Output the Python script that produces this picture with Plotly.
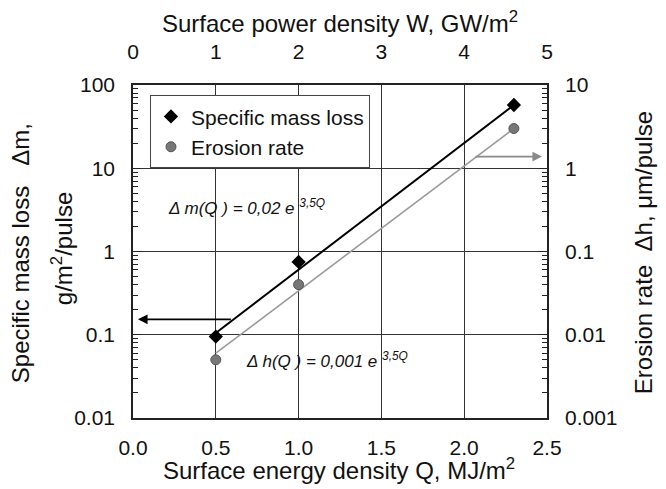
import math
import plotly.graph_objects as go

# ---------------- data ----------------
Q = [0.5, 1.0, 2.3]                      # surface energy density, MJ/m2
mass_loss = [0.095, 0.75, 57.5]          # g/m2/pulse (left axis)
erosion = [0.005, 0.040, 3.0]            # um/pulse (right axis)

Q_fit = [0.5, 2.3]
mass_fit = [0.105, 57.5]                 # dm(Q) = 0.02 e^(3.5Q)
erosion_fit = [0.006, 3.0]               # dh(Q) = 0.001 e^(3.5Q)

left_ticks = [0.01, 0.1, 1, 10, 100]
left_ticktext = ["0.01", "0.1", "1", "10", "100"]
right_ticks = [0.001, 0.01, 0.1, 1, 10]
right_ticktext = ["0.001", "0.01", "0.1", "1", "10"]
x_ticks = [0.0, 0.5, 1.0, 1.5, 2.0, 2.5]
w_ticks = [0, 1, 2, 3, 4, 5]

arrow_mass = dict(q_from=0.60, q_to=0.03, value=0.153)
arrow_erosion = dict(q_from=2.06, q_to=2.47, value=1.38)

FONT = "Liberation Sans, Arial, sans-serif"
TXT = "#111111"

fig = go.Figure()

# fit lines
fig.add_trace(go.Scatter(x=Q_fit, y=mass_fit, mode="lines", xaxis="x", yaxis="y",
                         line=dict(color="black", width=2), showlegend=False, hoverinfo="skip"))
fig.add_trace(go.Scatter(x=Q_fit, y=erosion_fit, mode="lines", xaxis="x", yaxis="y2",
                         line=dict(color="#9a9a9a", width=1.6), showlegend=False, hoverinfo="skip"))
# data points
fig.add_trace(go.Scatter(x=Q, y=mass_loss, mode="markers", name="Specific mass loss",
                         xaxis="x", yaxis="y",
                         marker=dict(symbol="diamond", size=11, color="black")))
fig.add_trace(go.Scatter(x=Q, y=erosion, mode="markers", name="Erosion rate",
                         xaxis="x", yaxis="y2",
                         marker=dict(symbol="circle", size=10, color="#777777",
                                     line=dict(color="#555555", width=1))))
# invisible trace to show the top axis
fig.add_trace(go.Scatter(x=[w_ticks[0]], y=[1], mode="markers", xaxis="x2", yaxis="y",
                         marker=dict(opacity=0), showlegend=False, hoverinfo="skip"))

tickfont = dict(family=FONT, size=21, color=TXT)

fig.update_layout(
    width=666, height=489,
    margin=dict(l=133, r=119, t=85, b=71),
    paper_bgcolor="white", plot_bgcolor="white",
    font=dict(family=FONT, color=TXT),
    xaxis=dict(range=[0, 2.5], tickvals=x_ticks, ticktext=[f"{v:.1f}" for v in x_ticks],
               showgrid=True, gridcolor="#333333", gridwidth=1, zeroline=False,
               showline=True, linecolor="#222222", linewidth=1.5, mirror=True,
               ticks="", tickfont=tickfont, ticklabelstandoff=10),
    xaxis2=dict(range=[0, 5], tickvals=w_ticks, overlaying="x", side="top", anchor="y",
                showgrid=False, zeroline=False, showline=False, ticks="",
                tickfont=tickfont, ticklabelstandoff=21),
    yaxis=dict(type="log", range=[-2, 2], tickvals=left_ticks, ticktext=left_ticktext,
               showgrid=True, gridcolor="#333333", gridwidth=1, zeroline=False,
               showline=True, linecolor="#222222", linewidth=1.5, mirror=True,
               ticks="inside", ticklen=8, tickcolor="#222222",
               minor=dict(ticks="inside", ticklen=5, tickcolor="#222222", dtick="D1", showgrid=False),
               tickfont=tickfont, ticklabelstandoff=12),
    yaxis2=dict(type="log", range=[-3, 1], tickvals=right_ticks, ticktext=right_ticktext,
                overlaying="y", side="right", anchor="x",
                showgrid=False, zeroline=False, showline=False,
                ticks="inside", ticklen=8, tickcolor="#222222",
                minor=dict(ticks="inside", ticklen=5, tickcolor="#222222", dtick="D1", showgrid=False),
                tickfont=tickfont, ticklabelstandoff=17),
    legend=dict(x=0.041, y=0.969, xanchor="left", yanchor="top",
                bgcolor="white", bordercolor="#444444", borderwidth=1,
                font=dict(family=FONT, size=21, color=TXT),
                tracegroupgap=0, itemwidth=30),
)

TITLE = dict(family=FONT, size=24, color=TXT)
EQ = dict(family=FONT, size=17, color=TXT)
ann = []
# axis titles
ann.append(dict(text="Surface power density W, GW/m<sup>2</sup>", xref="paper", yref="paper",
                x=0.5, y=1.188, xanchor="center", yanchor="middle", showarrow=False, font=TITLE))
ann.append(dict(text="Surface energy density Q, MJ/m<sup>2</sup>", xref="paper", yref="paper",
                x=0.4976, y=-0.153, xanchor="center", yanchor="middle", showarrow=False, font=TITLE))
ann.append(dict(text="Specific mass loss   \u0394m,", xref="paper", yref="paper",
                x=-0.27, y=0.4955, xanchor="center", yanchor="middle", showarrow=False,
                textangle=-90, font=TITLE))
ann.append(dict(text="g/m<sup>2</sup>/pulse", xref="paper", yref="paper",
                x=-0.1715, y=0.51, xanchor="center", yanchor="middle", showarrow=False,
                textangle=-90, font=TITLE))
ann.append(dict(text="Erosion rate  \u0394h, \u03bcm/pulse", xref="paper", yref="paper",
                x=1.2319, y=0.495, xanchor="center", yanchor="middle", showarrow=False,
                textangle=-90, font=TITLE))
# equations
ann.append(dict(text="<i>\u0394 m(Q ) = 0,02 e <sup>3,5Q</sup></i>", xref="x", yref="y",
                x=0.2, y=math.log10(3.4), xanchor="left", yanchor="middle", showarrow=False,
                font=EQ))
ann.append(dict(text="<i>\u0394 h(Q ) = 0,001 e <sup>3,5Q</sup></i>", xref="x", yref="y",
                x=0.67, y=math.log10(0.05), xanchor="left", yanchor="middle", showarrow=False,
                font=EQ))
# arrows pointing to axes
ann.append(dict(text="", xref="x", yref="y", axref="x", ayref="y",
                x=arrow_mass["q_to"], y=math.log10(arrow_mass["value"]),
                ax=arrow_mass["q_from"], ay=math.log10(arrow_mass["value"]),
                showarrow=True, arrowhead=2, arrowsize=1.2, arrowwidth=1.6, arrowcolor="black"))
ann.append(dict(text="", xref="x", yref="y2", axref="x", ayref="y2",
                x=arrow_erosion["q_to"], y=math.log10(arrow_erosion["value"]),
                ax=arrow_erosion["q_from"], ay=math.log10(arrow_erosion["value"]),
                showarrow=True, arrowhead=2, arrowsize=1.2, arrowwidth=1.6, arrowcolor="#8a8a8a"))
fig.update_layout(annotations=ann)

fig.write_html("out.html", config={"displayModeBar": False},
               post_script="document.body.style.margin='0px';document.body.style.overflow='hidden';")
